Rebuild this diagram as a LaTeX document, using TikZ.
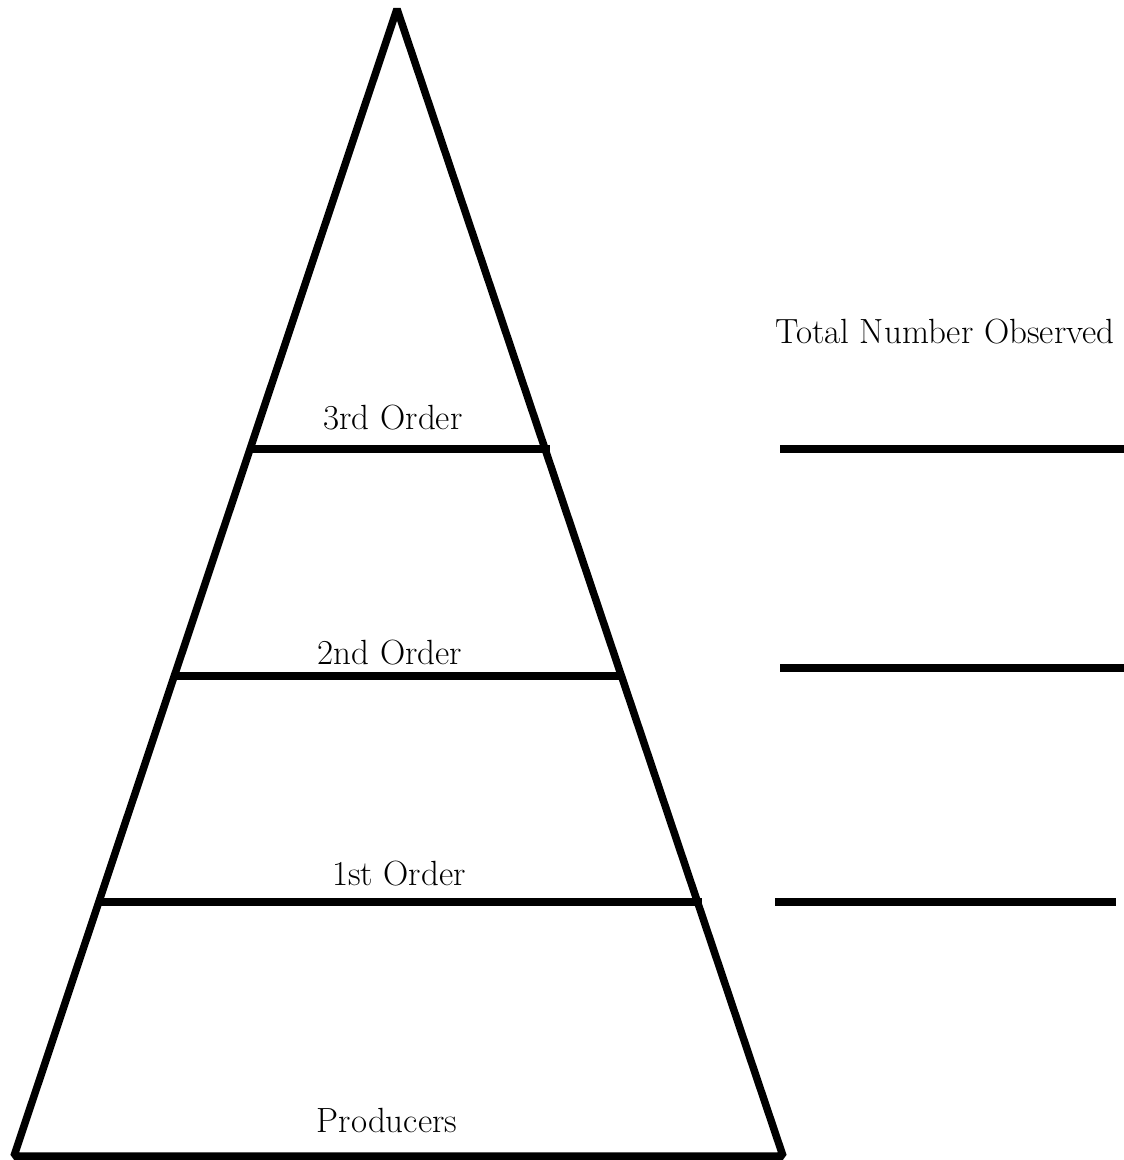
\documentclass[tikz,border=0pt]{standalone}
\usepackage{fontspec}
\begin{document}
\begin{tikzpicture}[x=1pt,y=-1pt,
  thick line/.style={line width=7.5pt,black},
  lbl/.style={font=\fontsize{35}{42}\selectfont,inner sep=0pt,anchor=base}]
\useasboundingbox (0,0) rectangle (1124,1160);
\coordinate (apex) at (397,9);
\coordinate (bl) at (14,1156);
\coordinate (br) at (783,1156);
\draw[thick line,line join=bevel] (bl) -- (apex) -- (br) -- cycle;
% tier lines
\coordinate (t3l) at (250,449); \coordinate (t3r) at (550,449);
\coordinate (t2l) at (175,676); \coordinate (t2r) at (624,676);
\coordinate (t1l) at (99,902);  \coordinate (t1r) at (702,902);
\draw[thick line] (t3l) -- (t3r);
\draw[thick line] (t2l) -- (t2r);
\draw[thick line] (t1l) -- (t1r);
% answer lines
\coordinate (a3l) at (780,449); \coordinate (a3r) at (1124,449);
\coordinate (a2l) at (780,668); \coordinate (a2r) at (1124,668);
\coordinate (a1l) at (775,902); \coordinate (a1r) at (1116,902);
\draw[thick line] (a3l) -- (a3r);
\draw[thick line] (a2l) -- (a2r);
\draw[thick line] (a1l) -- (a1r);
% labels
\node[lbl] (l3) at (393,429) {3rd Order};
\node[lbl] (l2) at (390,664) {2nd Order};
\node[lbl] (l1) at (399,885) {1st Order};
\node[lbl] (lp) at (387,1132) {Producers};
\node[lbl] (tn) at (945,343) {Total Number Observed};
\end{tikzpicture}
\end{document}
